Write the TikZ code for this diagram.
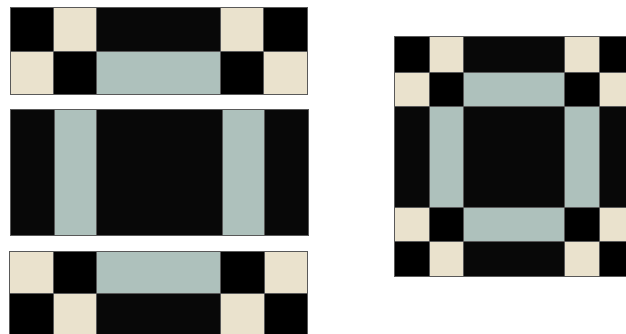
\documentclass[tikz,border=0pt]{standalone}
\usepackage{tikz}
\usetikzlibrary{positioning}
\definecolor{tinta}{RGB}{8,8,8}
\definecolor{crema}{RGB}{234,226,205}
\definecolor{salvia}{RGB}{174,193,188}
\tikzset{pieza/.style={draw=black!65, line width=0.4pt}}

\begin{document}
\begin{tikzpicture}[x=0.02cm,y=-0.02cm]
        \useasboundingbox (0,0) rectangle (626,334);
        \clip (0,0) rectangle (626,334);

        % Top strip: two rows of squares around a sage bar
        \foreach \xa/\xb/\ca/\cb in {10/53/black/crema, 53/96/crema/black, 96/220/tinta/salvia, 220/263/crema/black, 263/307/black/crema}{
          \filldraw[pieza, fill=\ca] (\xa,7) rectangle (\xb,51);
          \filldraw[pieza, fill=\cb] (\xa,51) rectangle (\xb,94);
        }

        % Middle panel: two sage bars
        \foreach \xa/\xb/\ca in {10/54/tinta, 54/96/salvia, 96/222/tinta, 222/264/salvia, 264/308/tinta}{
          \filldraw[pieza, fill=\ca] (\xa,109) rectangle (\xb,235);
        }

        % Bottom strip (mirror of the top one)
        \foreach \xa/\xb/\ca/\cb in {9/53/crema/black, 53/96/black/crema, 96/220/salvia/tinta, 220/264/black/crema, 264/307/crema/black}{
          \filldraw[pieza, fill=\ca] (\xa,251) rectangle (\xb,293);
          \filldraw[pieza, fill=\cb] (\xa,293) rectangle (\xb,340);
        }

        % Assembled block on the right
        \foreach \xa/\xb/\ca/\cb/\cc/\cd/\ce in {394/429/black/crema/tinta/crema/black, 429/463/crema/black/salvia/black/crema, 463/564/tinta/salvia/tinta/salvia/tinta, 564/599/crema/black/salvia/black/crema, 599/634/black/crema/tinta/crema/black}{
          \filldraw[pieza, fill=\ca] (\xa,36) rectangle (\xb,72);
          \filldraw[pieza, fill=\cb] (\xa,72) rectangle (\xb,106);
          \filldraw[pieza, fill=\cc] (\xa,106) rectangle (\xb,207);
          \filldraw[pieza, fill=\cd] (\xa,207) rectangle (\xb,241);
          \filldraw[pieza, fill=\ce] (\xa,241) rectangle (\xb,276);
        }
      \end{tikzpicture}
\end{document}
